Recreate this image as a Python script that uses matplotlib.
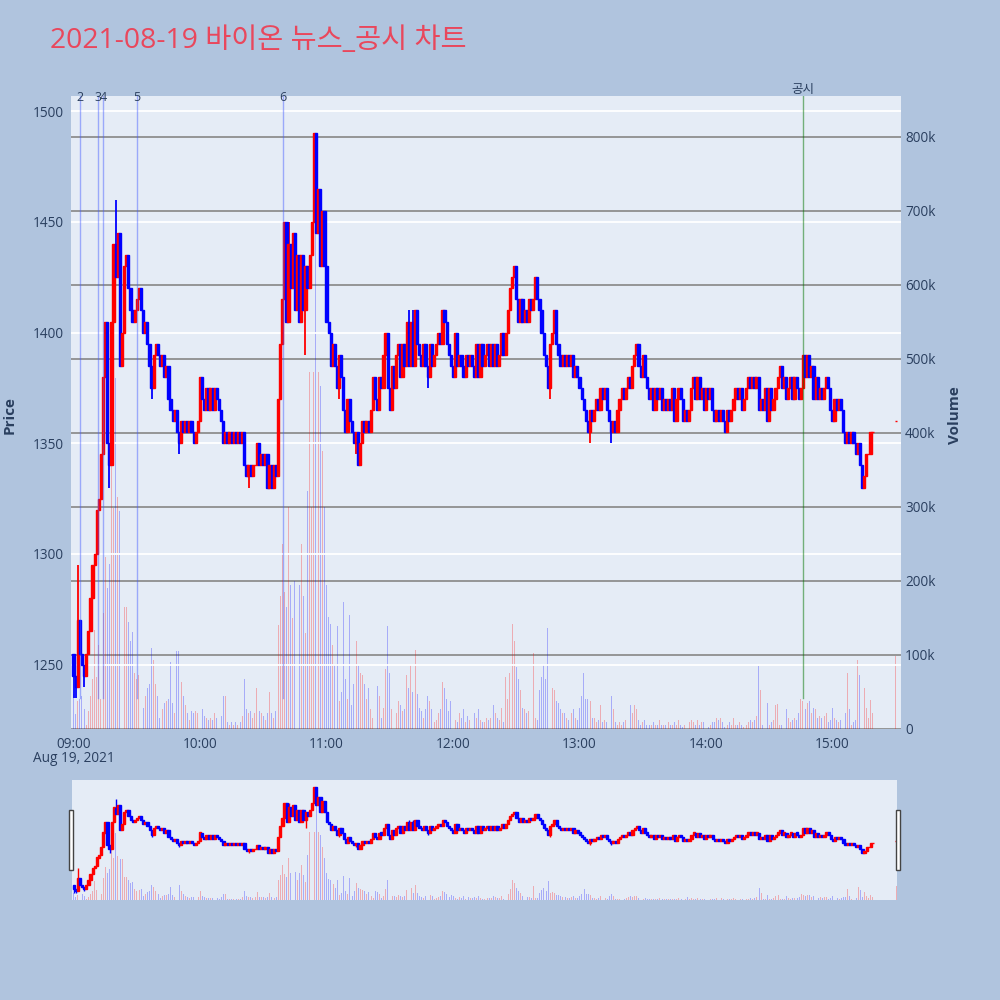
import matplotlib
matplotlib.use("Agg")
import matplotlib.pyplot as plt
from matplotlib.patches import Rectangle
import numpy as np

plt.rcParams['font.family'] = ['Open Sans', 'Noto Sans CJK KR', 'DejaVu Sans']

# ---------------- data ----------------
title = "2021-08-19 바이온 뉴스_공시 차트"

first_open = 1255
# 1-minute closes from 09:00 (index 0) to 15:19 (index 379)
close = [
    1245, 1240, 1270, 1255, 1250, 1245, 1255, 1265, 1280, 1295,
    1300, 1320, 1325, 1345, 1380, 1405, 1350, 1340, 1405, 1440,
    1425, 1445, 1385, 1400, 1430, 1435, 1420, 1410, 1405, 1410,
    1415, 1420, 1410, 1400, 1405, 1395, 1385, 1375, 1390, 1395,
    1390, 1385, 1390, 1380, 1385, 1370, 1365, 1360, 1365, 1355,
    1350, 1360, 1355, 1360, 1355, 1360, 1355, 1350, 1355, 1360,
    1380, 1370, 1365, 1375, 1365, 1375, 1365, 1375, 1370, 1365,
    1360, 1350, 1355, 1350, 1355, 1350, 1355, 1350, 1355, 1350,
    1355, 1340, 1335, 1340, 1335, 1340, 1340, 1350, 1340, 1345,
    1340, 1345, 1330, 1340, 1330, 1340, 1335, 1370, 1395, 1415,
    1450, 1405, 1440, 1420, 1445, 1410, 1435, 1405, 1435, 1410,
    1430, 1420, 1435, 1450, 1490, 1445, 1465, 1430, 1455, 1430,
    1405, 1400, 1385, 1395, 1385, 1375, 1390, 1380, 1365, 1355,
    1370, 1360, 1355, 1350, 1355, 1340, 1350, 1360, 1355, 1360,
    1355, 1365, 1380, 1370, 1365, 1380, 1375, 1390, 1400, 1375,
    1365, 1385, 1375, 1390, 1395, 1380, 1395, 1385, 1405, 1385,
    1405, 1385, 1410, 1395, 1390, 1385, 1395, 1385, 1380, 1395,
    1385, 1390, 1395, 1400, 1395, 1410, 1405, 1395, 1390, 1385,
    1380, 1400, 1385, 1390, 1385, 1380, 1390, 1385, 1390, 1385,
    1380, 1395, 1380, 1395, 1385, 1390, 1395, 1385, 1395, 1385,
    1395, 1385, 1390, 1400, 1390, 1400, 1410, 1420, 1425, 1430,
    1415, 1405, 1415, 1405, 1410, 1405, 1415, 1410, 1415, 1425,
    1415, 1410, 1400, 1390, 1385, 1375, 1395, 1400, 1410, 1395,
    1390, 1385, 1390, 1385, 1390, 1385, 1390, 1380, 1385, 1380,
    1375, 1370, 1365, 1360, 1355, 1365, 1360, 1365, 1370, 1365,
    1375, 1370, 1375, 1365, 1360, 1355, 1360, 1355, 1365, 1370,
    1375, 1370, 1375, 1380, 1375, 1385, 1390, 1395, 1385, 1380,
    1390, 1380, 1375, 1370, 1375, 1365, 1375, 1370, 1375, 1365,
    1370, 1365, 1370, 1365, 1375, 1360, 1370, 1375, 1370, 1360,
    1365, 1360, 1365, 1375, 1380, 1370, 1380, 1370, 1375, 1365,
    1375, 1370, 1375, 1365, 1360, 1365, 1360, 1365, 1360, 1355,
    1365, 1360, 1365, 1370, 1375, 1370, 1375, 1365, 1370, 1375,
    1380, 1375, 1380, 1375, 1380, 1365, 1370, 1365, 1375, 1360,
    1375, 1365, 1370, 1375, 1380, 1385, 1375, 1380, 1370, 1375,
    1380, 1370, 1380, 1375, 1370, 1375, 1390, 1380, 1390, 1380,
    1385, 1370, 1380, 1370, 1375, 1370, 1375, 1380, 1375, 1365,
    1360, 1370, 1365, 1370, 1365, 1355, 1350, 1355, 1350, 1355,
    1350, 1345, 1350, 1340, 1330, 1335, 1345, 1345, 1355, 1355,
]
# wick extremes that reach beyond the candle body
high_wick = {0: 1255, 2: 1295, 20: 1460, 102: 1450, 115: 1490, 159: 1410, 161: 1410}
low_wick = {0: 1235, 1: 1235, 5: 1240, 17: 1330, 37: 1370, 50: 1345, 83: 1330,
            110: 1390, 126: 1370, 134: 1345, 168: 1375, 226: 1370, 245: 1350, 255: 1350}

# volume per minute, thousands of shares
volume_k = [
    47, 20, 38, 41, 44, 27, 6, 24, 44, 67,
    134, 70, 113, 41, 157, 232, 191, 223, 408, 298,
    474, 313, 295, 295, 165, 165, 145, 119, 131, 76,
    67, 73, 79, 29, 44, 55, 61, 110, 93, 61,
    44, 15, 27, 35, 38, 41, 90, 35, 21, 105,
    105, 64, 44, 32, 21, 12, 24, 21, 24, 21,
    67, 27, 18, 15, 12, 15, 12, 21, 15, 9,
    18, 44, 44, 9, 6, 9, 6, 9, 6, 9,
    18, 67, 27, 21, 24, 15, 21, 55, 24, 21,
    18, 12, 21, 50, 21, 15, 24, 140, 180, 250,
    185, 165, 300, 195, 150, 200, 140, 195, 250, 180,
    130, 322, 482, 300, 482, 800, 482, 463, 375, 300,
    195, 151, 142, 113, 87, 139, 38, 50, 172, 67,
    40, 154, 32, 61, 119, 87, 76, 73, 61, 41,
    55, 27, 15, 67, 58, 44, 15, 29, 81, 139,
    76, 27, 27, 21, 38, 32, 24, 27, 73, 55,
    87, 50, 107, 47, 29, 24, 15, 27, 44, 38,
    27, 9, 12, 21, 27, 64, 55, 41, 24, 38,
    27, 12, 9, 21, 15, 27, 9, 18, 12, 15,
    21, 15, 27, 12, 9, 9, 15, 12, 15, 32,
    21, 15, 12, 29, 9, 70, 41, 76, 142, 119,
    84, 67, 53, 29, 27, 21, 24, 15, 102, 15,
    12, 53, 70, 87, 67, 136, 50, 55, 53, 38,
    35, 27, 21, 21, 15, 12, 21, 27, 15, 12,
    29, 44, 76, 41, 41, 38, 15, 15, 9, 12,
    32, 9, 12, 9, 32, 44, 27, 9, 6, 9,
    6, 9, 12, 24, 32, 21, 32, 27, 12, 6,
    9, 12, 6, 6, 6, 9, 6, 6, 12, 6,
    6, 6, 9, 6, 6, 9, 6, 12, 6, 3,
    6, 21, 9, 12, 9, 6, 12, 6, 9, 9,
    3, 3, 6, 9, 9, 15, 12, 15, 9, 3,
    6, 9, 6, 15, 6, 6, 9, 6, 3, 6,
    9, 12, 9, 12, 18, 85, 53, 6, 9, 35,
    6, 9, 12, 32, 34, 6, 6, 9, 27, 15,
    9, 12, 15, 12, 21, 41, 38, 27, 35, 38,
    21, 29, 27, 15, 18, 15, 18, 21, 9, 12,
    29, 15, 12, 9, 12, 18, 21, 76, 27, 6,
    9, 12, 93, 73, 21, 55, 29, 15, 39, 21,
]
# closing auction at 15:30
auction_minute = 390
auction_open = 1360
auction_close = 1360
auction_volume_k = 99

news_minutes = [3.0, 11.5, 14.0, 30.0, 99.5]
news_labels = ["2", "3", "4", "5", "6"]
disclosure_minute = 346.0
disclosure_label = "공시"

hour_ticks = [0, 60, 120, 180, 240, 300, 360]
hour_labels = ["09:00", "10:00", "11:00", "12:00", "13:00", "14:00", "15:00"]
date_label = "Aug 19, 2021"
price_ticks = [1250, 1300, 1350, 1400, 1450, 1500]
volume_ticks = [0, 100, 200, 300, 400, 500, 600, 700, 800]
volume_tick_labels = ["0", "100k", "200k", "300k", "400k", "500k", "600k", "700k", "800k"]

# ---------------- assemble ----------------
n = min(len(close), len(volume_k))
minutes = list(range(n)) + [auction_minute]
opens = [first_open] + close[:n - 1] + [auction_open]
closes = close[:n] + [auction_close]
vols = [v * 1000 for v in volume_k[:n]] + [auction_volume_k * 1000]
highs, lows = [], []
for i, (o, c) in enumerate(zip(opens, closes)):
    highs.append(max(o, c, high_wick.get(i, 0)))
    lows.append(min(o, c, low_wick.get(i, 10 ** 6)))

minutes = np.array(minutes, dtype=float)
opens = np.array(opens, dtype=float)
closes = np.array(closes, dtype=float)
highs = np.array(highs, dtype=float)
lows = np.array(lows, dtype=float)
vols = np.array(vols, dtype=float)
up = closes >= opens

RED = '#ff0000'
BLUE = '#0000ff'
BG = '#e5ecf6'
FIG_BG = '#b0c4de'
TXT = '#2a3f5f'

PRICE_LIM = (1220.9, 1506.9)
VOL_LIM = (0, 855000)
X_LIM = (-1.2, 392.5)


def draw(ax_p, ax_v, body_w, lw, vol_w, wick_lw):
    cols = np.where(up, RED, BLUE)
    ax_v.bar(minutes, vols, width=vol_w,
             color=[(1, 0, 0, 0.27) if u else (0, 0, 1, 0.27) for u in up],
             linewidth=0, zorder=2)
    ax_p.vlines(minutes, lows, highs, colors=cols, linewidth=wick_lw, zorder=3)
    bottoms = np.minimum(opens, closes)
    heights = np.abs(closes - opens)
    ax_p.bar(minutes, heights, width=body_w, bottom=bottoms, color=cols, edgecolor=cols,
             linewidth=lw, zorder=4)


fig = plt.figure(figsize=(10, 10), dpi=100, facecolor=FIG_BG)

ax_v = fig.add_axes([0.071, 0.271, 0.830, 0.633])
ax_p = ax_v.twinx()
ax_v.set_zorder(1)
ax_p.set_zorder(2)
ax_p.patch.set_visible(False)
ax_v.set_facecolor(BG)

draw(ax_p, ax_v, 1.05, 1.0, 0.45, 1.3)

ax_p.set_xlim(*X_LIM)
ax_p.set_ylim(*PRICE_LIM)
ax_v.set_ylim(*VOL_LIM)

ax_p.yaxis.tick_left()
ax_p.yaxis.set_label_position('left')
ax_v.yaxis.tick_right()
ax_v.yaxis.set_label_position('right')

ax_p.set_yticks(price_ticks)
ax_p.set_yticklabels([str(t) for t in price_ticks])
ax_v.set_yticks([v * 1000 for v in volume_ticks])
ax_v.set_yticklabels(volume_tick_labels)
ax_v.set_xticks(hour_ticks)
ax_v.set_xticklabels(hour_labels)
ax_p.set_xticks(hour_ticks)
ax_p.tick_params(axis='x', labelbottom=False, length=0)

ax_p.tick_params(axis='y', length=0, pad=5, labelsize=9.8, labelcolor=TXT, left=False, right=False,
                 labelleft=True, labelright=False)
ax_v.tick_params(axis='y', length=0, pad=3, labelsize=9.8, labelcolor=TXT, left=False, right=False,
                 labelleft=False, labelright=True)
ax_v.tick_params(axis='x', length=0, pad=6, labelsize=9.8, labelcolor=TXT)

ax_v.grid(axis='y', color='#8e8e8e', linewidth=1.3, zorder=0)
ax_p.grid(axis='y', color='white', linewidth=1.3, zorder=1)
ax_p.grid(axis='x', visible=False)
ax_v.set_axisbelow(True)
for a in (ax_p, ax_v):
    for s in a.spines.values():
        s.set_visible(False)

for m, lab in zip(news_minutes, news_labels):
    ax_p.plot([m, m], [1235, PRICE_LIM[1]], color=(0.25, 0.35, 1.0, 0.45), linewidth=1.0, zorder=5)
    ax_p.text(m, 1506.3, lab, ha='center', va='center', fontsize=9, color=TXT, zorder=6, clip_on=False)
ax_p.plot([disclosure_minute, disclosure_minute], [1235, PRICE_LIM[1]], color=(0.0, 0.45, 0.0, 0.5),
          linewidth=1.0, zorder=5)
ax_p.annotate(disclosure_label, xy=(disclosure_minute, 1.0), xycoords=('data', 'axes fraction'),
              xytext=(0, 4.5), textcoords='offset points', ha='center', va='center',
              fontsize=9, color=TXT)

fig.text(0.050, 0.959, title, ha='left', va='center', fontsize=20.4, color='#e9475c')
fig.text(0.0735, 0.242, date_label, ha='center', va='center', fontsize=9.8, color=TXT)
fig.text(0.010, 0.585, "Price", rotation=90, ha='center', va='center', fontsize=11,
         fontweight='bold', color=TXT)
fig.text(0.955, 0.585, "Volume", rotation=90, ha='center', va='center', fontsize=11,
         fontweight='bold', color=TXT)

rs_v = fig.add_axes([0.072, 0.100, 0.825, 0.120])
rs_p = rs_v.twinx()
rs_v.set_zorder(1)
rs_p.set_zorder(2)
rs_p.patch.set_visible(False)
rs_v.set_facecolor(BG)
draw(rs_p, rs_v, 1.05, 1.0, 0.45, 1.0)
rs_p.set_xlim(-0.8, 390.4)
rs_p.set_ylim(1218, 1506)
rs_v.set_ylim(*VOL_LIM)
for a in (rs_p, rs_v):
    a.set_xticks([])
    a.set_yticks([])
    for s in a.spines.values():
        s.set_visible(False)

for xpx in (68.5, 895.5):
    fig.patches.append(Rectangle((xpx / 1000, 1 - 870 / 1000), 4 / 1000, 60 / 1000,
                                 transform=fig.transFigure, facecolor='white',
                                 edgecolor='#444444', linewidth=1.0, zorder=10))

fig.savefig('out.png', dpi=100, facecolor=FIG_BG)
